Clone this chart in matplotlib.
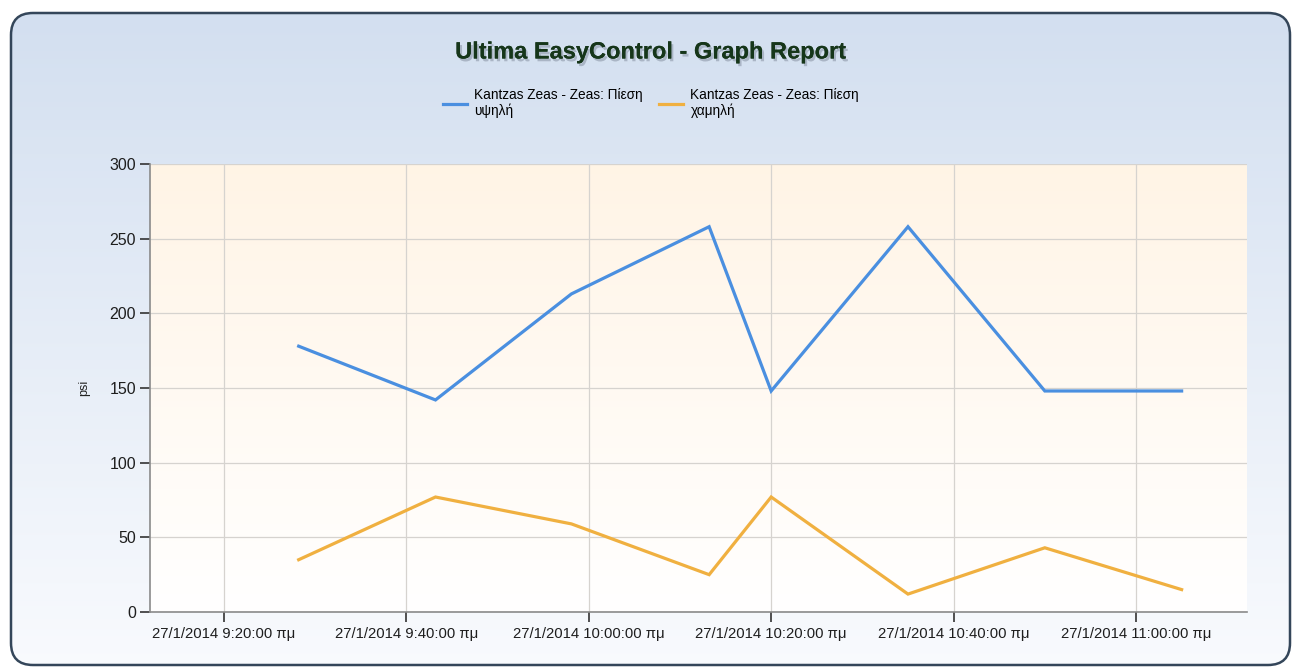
"""
Recreate the Ultima EasyControl graph report: high/low pressure (psi) over time.
"""

from datetime import datetime

import matplotlib
matplotlib.use("Agg")
import matplotlib.dates as mdates
import matplotlib.patheffects as pe
import matplotlib.pyplot as plt
import numpy as np
from matplotlib.patches import FancyBboxPatch
from matplotlib.ticker import FixedLocator, FuncFormatter

plt.rcParams["font.family"] = ["Liberation Sans", "DejaVu Sans"]

TITLE = "Ultima EasyControl - Graph Report"
SERIES_NAMES = [
    "Kantzas Zeas - Zeas: Πίεση\nυψηλή",
    "Kantzas Zeas - Zeas: Πίεση\nχαμηλή",
]
Y_LABEL = "psi"

# sample times (27/1/2014) as HH:MM:SS
TIMES = ["09:28:12", "09:43:12", "09:58:06", "10:13:12",
         "10:20:00", "10:35:00", "10:50:00", "11:05:00"]
HIGH_PSI = [178, 142, 213, 258, 148, 258, 148, 148]
LOW_PSI = [35, 77, 59, 25, 77, 12, 43, 15]

X_TICKS = ["09:20", "09:40", "10:00", "10:20", "10:40", "11:00"]
X_RANGE = ["09:11:54", "11:12:10"]
Y_TICKS = [0, 50, 100, 150, 200, 250, 300]

COLORS = ["#4a8fe0", "#f0b040"]


def at(hms):
    parts = [int(p) for p in hms.split(":")]
    while len(parts) < 3:
        parts.append(0)
    return datetime(2014, 1, 27, *parts)


def fmt_tick(value, _pos):
    d = mdates.num2date(value)
    return f"27/1/{d.year} {d.hour}:{d.minute:02d}:00 πμ"


W, H = 1295, 671
fig = plt.figure(figsize=(W / 100, H / 100), dpi=100)
fig.patch.set_facecolor("white")

# outer rounded panel with a soft blue-to-white gradient
bg = fig.add_axes([0, 0, 1, 1], zorder=-10)
bg.set_xlim(0, W)
bg.set_ylim(H, 0)
bg.axis("off")
grad = np.linspace(0, 1, 256).reshape(-1, 1)
top_c = np.array([0.827, 0.875, 0.941])
bot_c = np.array([0.975, 0.982, 0.995])
img = top_c + (bot_c - top_c) * grad[..., None]
im = bg.imshow(img, extent=(11, 1290, 665, 13), aspect="auto", zorder=0)
panel = FancyBboxPatch((11 + 22, 13 + 22), 1290 - 11 - 44, 665 - 13 - 44,
                       boxstyle="round,pad=22", facecolor="none",
                       edgecolor="#34465a", linewidth=1.8, zorder=2)
bg.add_patch(panel)
im.set_clip_path(panel)

# plot area
L, R, T, B = 150, 1247, 164, 612
ax = fig.add_axes([L / W, 1 - B / H, (R - L) / W, (B - T) / H])
ax.set_facecolor("none")

x = [at(t) for t in TIMES]
for vals, name, color in zip([HIGH_PSI, LOW_PSI], SERIES_NAMES, COLORS):
    ax.plot(x, vals, color=color, linewidth=2.3, label=name, zorder=3,
            solid_joinstyle="miter")

ax.set_xlim(at(X_RANGE[0]), at(X_RANGE[1]))
ax.set_ylim(0, 300)

# cream-to-white gradient inside the plot area
p_top = np.array([1.0, 0.957, 0.900])
pgrad = p_top + (np.array([1.0, 1.0, 1.0]) - p_top) * grad[..., None]
ax.imshow(pgrad, extent=(*ax.get_xlim(), 0, 300), aspect="auto", origin="upper",
          zorder=0)
ax.set_ylim(0, 300)

ax.xaxis.set_major_locator(FixedLocator([mdates.date2num(at(t)) for t in X_TICKS]))
ax.xaxis.set_major_formatter(FuncFormatter(fmt_tick))
ax.set_yticks(Y_TICKS)

ax.grid(True, color="#d6d3cf", linewidth=0.9, zorder=1)
ax.set_axisbelow(True)
for s in ("top", "right"):
    ax.spines[s].set_visible(False)
for s in ("left", "bottom"):
    ax.spines[s].set_color("#8a8a8a")
    ax.spines[s].set_linewidth(1.2)
ax.tick_params(axis="both", length=7, width=1.2, color="#333333",
               labelcolor="#1e1e1e")
ax.tick_params(axis="x", labelsize=10.7, pad=4)
ax.tick_params(axis="y", labelsize=11.5, pad=3)

ax.set_ylabel(Y_LABEL, fontsize=9, color="#222222", labelpad=14)

fig.text(651 / W, 1 - 52 / H, TITLE, ha="center", va="center",
         fontsize=17, fontweight="bold", color="#16361a",
         path_effects=[pe.withSimplePatchShadow(offset=(1.5, -2),
                                                shadow_rgbFace="#8792a3",
                                                alpha=0.55),
                       pe.Normal()])

fig.legend(loc="center", bbox_to_anchor=(651 / W, 1 - 103 / H), ncol=2,
           frameon=False, fontsize=9.8, handlelength=1.75, handletextpad=0.55,
           columnspacing=1.2, labelspacing=0.2)

fig.savefig("out.png", dpi=100)
